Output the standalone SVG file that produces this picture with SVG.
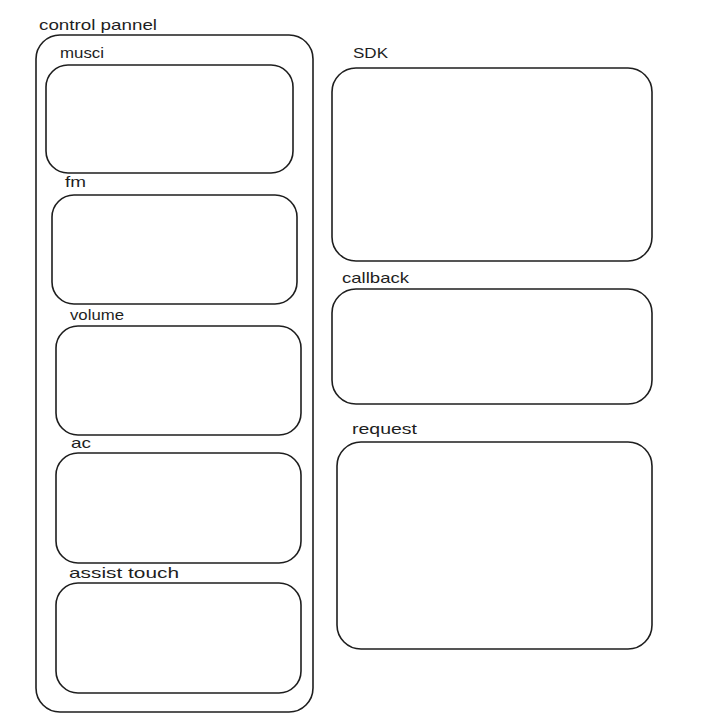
<svg xmlns="http://www.w3.org/2000/svg" width="724" height="726" viewBox="0 0 724 726">
<style>
.box{fill:none;stroke:#1e1e1e;stroke-width:1.6;stroke-linejoin:round}
.lbl{font-family:"Liberation Sans",Arial,sans-serif;font-size:15px;fill:#1e1e1e}
</style>
<rect width="724" height="726" fill="#ffffff"/>
<g id="control-pannel">
<rect class="box" x="36" y="35" width="277" height="677" rx="24" ry="24"/>
<text class="lbl" x="39" y="30" textLength="118" lengthAdjust="spacingAndGlyphs">control pannel</text>
</g>
<g id="musci">
<rect class="box" x="46" y="65" width="247" height="108" rx="22" ry="22"/>
<text class="lbl" x="60" y="58" textLength="44" lengthAdjust="spacingAndGlyphs">musci</text>
</g>
<g id="fm">
<rect class="box" x="52" y="195" width="245" height="109" rx="22" ry="22"/>
<text class="lbl" x="65" y="187" textLength="21" lengthAdjust="spacingAndGlyphs">fm</text>
</g>
<g id="volume">
<rect class="box" x="56" y="326" width="245" height="109" rx="22" ry="22"/>
<text class="lbl" x="70" y="320" textLength="54" lengthAdjust="spacingAndGlyphs">volume</text>
</g>
<g id="ac">
<rect class="box" x="56" y="453" width="245" height="110" rx="22" ry="22"/>
<text class="lbl" x="71" y="448" textLength="20" lengthAdjust="spacingAndGlyphs">ac</text>
</g>
<g id="assist-touch">
<rect class="box" x="56" y="583" width="245" height="110" rx="22" ry="22"/>
<text class="lbl" x="69" y="578" textLength="110" lengthAdjust="spacingAndGlyphs">assist touch</text>
</g>
<g id="sdk">
<rect class="box" x="332" y="68" width="320" height="193" rx="24" ry="24"/>
<text class="lbl" x="353" y="58" textLength="35" lengthAdjust="spacingAndGlyphs">SDK</text>
</g>
<g id="callback">
<rect class="box" x="332" y="289" width="320" height="115" rx="24" ry="24"/>
<text class="lbl" x="342" y="283" textLength="67" lengthAdjust="spacingAndGlyphs">callback</text>
</g>
<g id="request">
<rect class="box" x="337" y="442" width="315" height="207" rx="24" ry="24"/>
<text class="lbl" x="352" y="434" textLength="65" lengthAdjust="spacingAndGlyphs">request</text>
</g>
<g id="connectors"></g>
</svg>
